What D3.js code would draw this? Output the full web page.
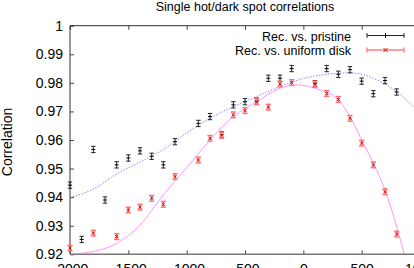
<!DOCTYPE html>
<html>
<head>
<meta charset="utf-8">
<title>Single hot/dark spot correlations</title>
<script src="https://d3js.org/d3.v7.min.js"></script>
<style>
body { margin: 0; background: #fff; }
svg { display: block; font-family: "Liberation Sans", Arial, sans-serif; }
</style>
</head>
<body>
<div id="chart"></div>
<script>
var pristineX = [-2000,-1900,-1800,-1700,-1600,-1500,-1400,-1300,-1200,-1100,-900,-800,-700,-600,-500,-400,-300,-200,-100,100,200,300,400,500,600,700,800];
var pristineY = [0.9442,0.9252,0.9567,0.9390,0.9513,0.9537,0.9562,0.9543,0.9513,0.9594,0.9658,0.9682,0.9618,0.9723,0.9734,0.9736,0.9816,0.9816,0.9850,0.9797,0.9850,0.9830,0.9846,0.9806,0.9762,0.9808,0.9768];
var pristineErr = 0.0011;

var diskX = [-2000,-1800,-1600,-1500,-1400,-1300,-1200,-1100,-900,-800,-700,-600,-500,-400,-300,-200,-100,100,200,300,400,500,600,700,800];
var diskY = [0.9222,0.9274,0.9262,0.9355,0.9365,0.9396,0.9375,0.9472,0.9530,0.9606,0.9617,0.9688,0.9703,0.9734,0.9715,0.9796,0.9801,0.9796,0.9763,0.9742,0.9676,0.9589,0.9513,0.9419,0.9271];
var diskErr = 0.001;

// fitted curves
var pristineFitX = [-2000,-1800,-1600,-1400,-1200,-1000,-800,-600,-400,-200,0,200,400,600,800,1000];
var pristineFitY = [0.9399,0.9428,0.9481,0.9523,0.9567,0.9625,0.9676,0.9717,0.9752,0.9787,0.9815,0.9830,0.9835,0.9816,0.9769,0.9695];
var diskFitX = [-2000,-1800,-1600,-1400,-1200,-1000,-800,-600,-400,-200,-50,100,300,400,500,600,700,800,900];
var diskFitY = [0.9200,0.9210,0.9238,0.9302,0.9408,0.9503,0.9600,0.9682,0.9734,0.9781,0.9793,0.9781,0.9740,0.9682,0.9600,0.9519,0.9425,0.9297,0.9147];

var xTicks = [-2000,-1500,-1000,-500,0,500,1000];
var yTicks = [0.92,0.93,0.94,0.95,0.96,0.97,0.98,0.99,1];

var W = 414, H = 268;
var plotL = 70, plotR = 420, plotT = 25.7, plotB = 254.3;

var svg = d3.select("#chart").append("svg")
	.attr("width", W)
	.attr("height", H);

var x = d3.scaleLinear().domain([-2000, 1000]).range([plotL, plotR]);
var y = d3.scaleLinear().domain([0.92, 1]).range([plotB, plotT]);

//clip for the fit curves
svg.append("defs").append("clipPath").attr("id", "plot")
	.append("rect")
	.attr("x", plotL).attr("y", plotT)
	.attr("width", plotR - plotL).attr("height", plotB - plotT);

//title
svg.append("text")
	.attr("x", (plotL + plotR) / 2)
	.attr("y", 10.5)
	.attr("text-anchor", "middle")
	.style("font-size", "12.5px")
	.text("Single hot/dark spot correlations");

//axes, ticks pointing inwards
var fmtX = function(d) { return d < 0 ? "-" + Math.abs(d) : String(d); };
var fmtY = function(d) { return d === 1 ? "1" : d.toFixed(2); };

svg.append("g")
	.attr("transform", "translate(0," + plotB + ")")
	.call(d3.axisBottom(x).tickValues(xTicks).tickFormat(fmtX).tickSizeInner(-4).tickSizeOuter(0).tickPadding(10));
svg.append("g")
	.attr("transform", "translate(0," + plotT + ")")
	.call(d3.axisTop(x).tickValues(xTicks).tickFormat("").tickSizeInner(-4).tickSizeOuter(0));
svg.append("g")
	.attr("transform", "translate(" + plotL + ",0)")
	.call(d3.axisLeft(y).tickValues(yTicks).tickFormat(fmtY).tickSizeInner(-4).tickSizeOuter(0).tickPadding(7));
svg.append("g")
	.attr("transform", "translate(" + plotR + ",0)")
	.call(d3.axisRight(y).tickValues(yTicks).tickFormat("").tickSizeInner(-4).tickSizeOuter(0));

svg.selectAll(".domain").remove();
svg.selectAll(".tick line").attr("stroke", "#444");
svg.selectAll(".tick text")
	.attr("fill", "#000")
	.style("font-size", "14px")
	.style("font-family", "'Liberation Sans', Arial, sans-serif");

//border
svg.append("path")
	.attr("d", "M" + plotL + "," + plotB + "V" + plotT + "H" + plotR)
	.attr("fill", "none")
	.attr("stroke", "#333")
	.attr("stroke-width", 1);
svg.append("line")
	.attr("x1", plotL).attr("x2", plotR)
	.attr("y1", plotB).attr("y2", plotB)
	.attr("stroke", "#777")
	.attr("stroke-width", 1.6);

//y label
svg.append("text")
	.attr("transform", "translate(12,142) rotate(-90)")
	.attr("text-anchor", "middle")
	.style("font-size", "14px")
	.text("Correlation");

//fit curves
var line = d3.line()
	.x(function(d) { return x(d[0]); })
	.y(function(d) { return y(d[1]); })
	.curve(d3.curveMonotoneX);

svg.append("path")
	.datum(d3.zip(pristineFitX, pristineFitY))
	.attr("clip-path", "url(#plot)")
	.attr("d", line)
	.attr("fill", "none")
	.attr("stroke", "#7070ff")
	.attr("stroke-opacity", 0.85)
	.attr("stroke-width", 1)
	.attr("stroke-dasharray", "1.5,1.5");

svg.append("path")
	.datum(d3.zip(diskFitX, diskFitY))
	.attr("clip-path", "url(#plot)")
	.attr("d", line)
	.attr("fill", "none")
	.attr("stroke", "#ff66ff")
	.attr("stroke-opacity", 0.7)
	.attr("stroke-width", 1);

//error bars + points
function errorBars(xs, ys, err, barColor, barWidth, cap) {
	var g = svg.append("g");
	var pts = d3.zip(xs, ys);
	var p = g.selectAll("g").data(pts).enter().append("g");
	p.append("line")
		.attr("x1", function(d) { return x(d[0]); })
		.attr("x2", function(d) { return x(d[0]); })
		.attr("y1", function(d) { return y(d[1] - err); })
		.attr("y2", function(d) { return y(d[1] + err); });
	p.append("line")
		.attr("x1", function(d) { return x(d[0]) - cap; })
		.attr("x2", function(d) { return x(d[0]) + cap; })
		.attr("y1", function(d) { return y(d[1] - err); })
		.attr("y2", function(d) { return y(d[1] - err); });
	p.append("line")
		.attr("x1", function(d) { return x(d[0]) - cap; })
		.attr("x2", function(d) { return x(d[0]) + cap; })
		.attr("y1", function(d) { return y(d[1] + err); })
		.attr("y2", function(d) { return y(d[1] + err); });
	p.selectAll("line")
		.attr("stroke", barColor)
		.attr("stroke-width", barWidth);
	return p;
}

var pb = errorBars(pristineX, pristineY, pristineErr, "#222", 1, 2.2);
pb.append("path")
	.attr("d", function(d) {
		var cx = x(d[0]), cy = y(d[1]);
		return "M" + (cx - 2) + "," + cy + "H" + (cx + 2);
	})
	.attr("stroke", "#000")
	.attr("stroke-width", 1);

var db = errorBars(diskX, diskY, diskErr, "#ff7070", 1.4, 2.6);
db.append("path")
	.attr("d", function(d) {
		var cx = x(d[0]), cy = y(d[1]), s = 1.6;
		return "M" + (cx - s) + "," + (cy - s) + "L" + (cx + s) + "," + (cy + s) +
			"M" + (cx - s) + "," + (cy + s) + "L" + (cx + s) + "," + (cy - s);
	})
	.attr("stroke", "#e00000")
	.attr("stroke-width", 1);

//legend
var legend = [
	{ label: "Rec. vs. pristine", line: "#222", mark: "+", markColor: "#000", y: 35.5 },
	{ label: "Rec. vs. uniform disk", line: "#ff8080", mark: "x", markColor: "#e00000", y: 50 }
];
var lg = svg.append("g").selectAll("g").data(legend).enter().append("g");
lg.append("text")
	.attr("x", 351)
	.attr("y", function(d) { return d.y + 5; })
	.attr("text-anchor", "end")
	.style("font-size", "12.5px")
	.text(function(d) { return d.label; });
lg.append("path")
	.attr("d", function(d) {
		return "M367," + d.y + "H404M367," + (d.y - 2.5) + "V" + (d.y + 2.5) +
			"M404," + (d.y - 2.5) + "V" + (d.y + 2.5);
	})
	.attr("fill", "none")
	.attr("stroke", function(d) { return d.line; })
	.attr("stroke-width", function(d) { return d.mark === "x" ? 1.4 : 1; });
lg.append("path")
	.attr("d", function(d) {
		var cx = 385.5, cy = d.y;
		if (d.mark === "+") return "M" + cx + "," + (cy - 2.5) + "V" + (cy + 2.5);
		return "M" + (cx - 2) + "," + (cy - 2) + "L" + (cx + 2) + "," + (cy + 2) +
			"M" + (cx - 2) + "," + (cy + 2) + "L" + (cx + 2) + "," + (cy - 2);
	})
	.attr("stroke", function(d) { return d.markColor; })
	.attr("stroke-width", 1);
</script>
</body>
</html>
